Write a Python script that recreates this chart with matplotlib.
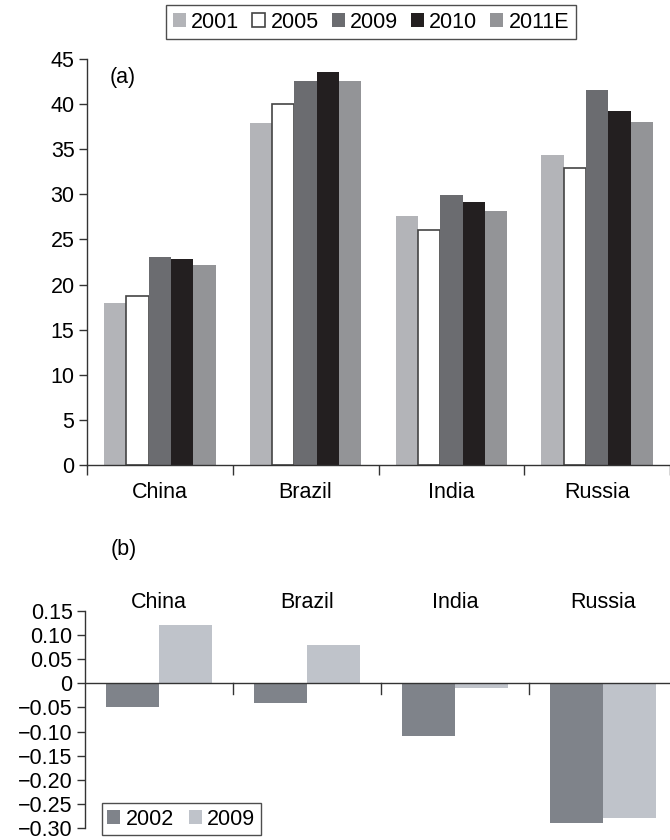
import matplotlib
matplotlib.use("Agg")
import matplotlib.pyplot as plt
import numpy as np

plt.rcParams['font.family'] = ['Liberation Sans', 'DejaVu Sans']
plt.rcParams['font.size'] = 15.5
plt.rcParams['axes.unicode_minus'] = True

# ---- data ----
countries = ["China", "Brazil", "India", "Russia"]

years_a = ["2001", "2005", "2009", "2010", "2011E"]
vals_2001 = [18.0, 37.9, 27.6, 34.4]
vals_2005 = [18.7, 40.0, 26.0, 32.9]
vals_2009 = [23.0, 42.6, 29.9, 41.6]
vals_2010 = [22.8, 43.6, 29.2, 39.2]
vals_2011e = [22.2, 42.6, 28.2, 38.0]

years_b = ["2002", "2009"]
change_2002 = [-0.05, -0.04, -0.11, -0.29]
change_2009 = [0.12, 0.08, -0.01, -0.28]

yticks_a = [0, 5, 10, 15, 20, 25, 30, 35, 40, 45]
yticks_b = [0.15, 0.10, 0.05, 0, -0.05, -0.10, -0.15, -0.20, -0.25, -0.30]

# ---- styles ----
colors_a = ["#b3b4b8", "#ffffff", "#6b6c70", "#231f20", "#939497"]
edges_a = ["#b3b4b8", "#444444", "#6b6c70", "#231f20", "#939497"]
colors_b = ["#7f838a", "#bfc3ca"]
axis_col = "#333333"

W, H = 670, 840
fig = plt.figure(figsize=(W / 100, H / 100), dpi=100)

x = np.arange(len(countries))
cat_px = 148.0

# ---------- panel (a) ----------
left_a = 87
ax = fig.add_axes([left_a / W, 1 - 465 / H, 1 - left_a / W, (465 - 59) / H])
series_a = [vals_2001, vals_2005, vals_2009, vals_2010, vals_2011e]
bw = 0.153
bars_a = []
for i, vals in enumerate(series_a):
    b = ax.bar(x + (i - 2) * bw, vals, width=bw, color=colors_a[i],
               edgecolor=edges_a[i], linewidth=1.2 if i == 1 else 0,
               label=years_a[i], zorder=2)
    bars_a.append(b)
ax.set_xlim(-0.5, -0.5 + (W - left_a) / cat_px)
ax.set_ylim(0, 45)
ax.set_yticks(yticks_a)
ax.set_yticklabels([str(v) for v in yticks_a])
ax.set_xticks(np.arange(-0.5, 3.6, 1.0))
ax.set_xticklabels([])
ax.set_xticks(x, minor=True)
ax.set_xticklabels(countries, minor=True)
ax.tick_params(axis='x', which='major', direction='out', length=7, width=1, color=axis_col)
ax.tick_params(axis='x', which='minor', length=0, pad=12)
ax.tick_params(axis='y', direction='out', length=6, width=1, color=axis_col, pad=3)
for s in ["top", "right"]:
    ax.spines[s].set_visible(False)
for s in ["left", "bottom"]:
    ax.spines[s].set_color(axis_col)
    ax.spines[s].set_linewidth(1)
ax.spines["bottom"].set_zorder(3)

fig.text(110 / W, 1 - 77 / H, "(a)", ha="left", va="center")

leg = fig.legend(handles=bars_a, labels=years_a, loc="center",
                 bbox_to_anchor=(371 / W, 1 - 22 / H), ncol=5,
                 frameon=True, fancybox=False, edgecolor="#222222",
                 handlelength=0.6, handleheight=0.6, handletextpad=0.25,
                 columnspacing=0.6, borderpad=0.3, borderaxespad=0)
leg.get_frame().set_linewidth(1)

# ---------- panel (b) ----------
left_b = 85
ax2 = fig.add_axes([left_b / W, 1 - 828 / H, 1 - left_b / W, (828 - 611) / H])
bw2 = 0.36
bars_b = []
for i, vals in enumerate([change_2002, change_2009]):
    b = ax2.bar(x + (i - 0.5) * bw2, vals, width=bw2, color=colors_b[i],
                linewidth=0, label=years_b[i], zorder=2)
    bars_b.append(b)
ax2.set_xlim(-0.5, -0.5 + (W - left_b) / cat_px)
ax2.set_ylim(-0.30, 0.15)
ax2.set_yticks(yticks_b)
ax2.set_yticklabels(["0" if v == 0 else f"{v:.2f}".replace("-", "\u2212") for v in yticks_b])
ax2.tick_params(axis='y', direction='out', length=6, width=1, color=axis_col, pad=3)
ax2.set_xticks([])
ax2.axhline(0, color=axis_col, linewidth=1, zorder=3)
for xb in [0.5, 1.5, 2.5]:
    ax2.plot([xb, xb], [0, -0.022], color=axis_col, linewidth=1, zorder=3)
for s in ["top", "right", "bottom"]:
    ax2.spines[s].set_visible(False)
ax2.spines["left"].set_color(axis_col)
ax2.spines["left"].set_linewidth(1)
for xi, name in zip(x, countries):
    fig.text((left_b + (xi + 0.5) * cat_px) / W, 1 - 603 / H, name,
             ha="center", va="center")

fig.text(111 / W, 1 - 550 / H, "(b)", ha="left", va="center")

leg2 = fig.legend(handles=bars_b, labels=years_b, loc="lower left",
                  bbox_to_anchor=(102 / W, 1 - 835 / H), ncol=2,
                  frameon=True, fancybox=False, edgecolor="#222222",
                  handlelength=0.6, handleheight=0.6, handletextpad=0.25,
                  columnspacing=0.7, borderpad=0.25, borderaxespad=0)
leg2.get_frame().set_linewidth(1)

fig.savefig("out.png", dpi=100)
